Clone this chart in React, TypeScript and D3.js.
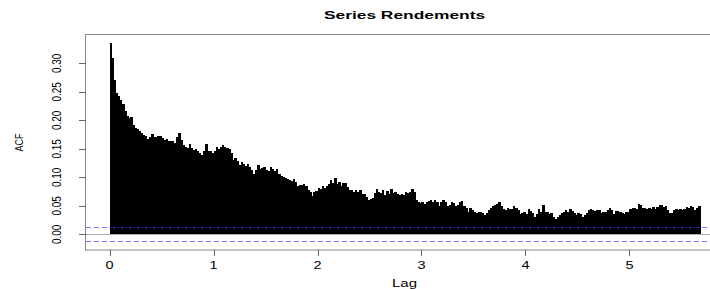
import * as d3 from "d3";
import { useEffect, useRef } from "react";

// ACF of Rendements, one value every 0.02 of lag
const lagStep = 0.02;
const acfValues = [
  0.335, 0.31, 0.27, 0.248, 0.243, 0.236, 0.228, 0.216, 0.208, 0.204,
  0.206, 0.192, 0.186, 0.184, 0.181, 0.177, 0.175, 0.172, 0.168, 0.171,
  0.176, 0.171, 0.17, 0.172, 0.172, 0.169, 0.165, 0.167, 0.164, 0.163,
  0.163, 0.16, 0.17, 0.178, 0.165, 0.157, 0.154, 0.152, 0.158, 0.152,
  0.148, 0.149, 0.146, 0.142, 0.139,
  0.146, 0.158, 0.147, 0.146, 0.143, 0.147, 0.153, 0.15, 0.153, 0.156,
  0.153, 0.152, 0.15, 0.143, 0.131, 0.134, 0.129, 0.122, 0.127, 0.123,
  0.12, 0.124, 0.118, 0.112, 0.106, 0.112, 0.121, 0.114, 0.117, 0.118,
  0.113, 0.111, 0.118, 0.114, 0.111, 0.114, 0.105, 0.103, 0.101, 0.099,
  0.097, 0.096, 0.093, 0.097, 0.091, 0.085, 0.087, 0.086,
  0.088, 0.084, 0.078, 0.074, 0.068, 0.074, 0.076, 0.082, 0.08, 0.085,
  0.082, 0.085, 0.088, 0.095, 0.09, 0.098, 0.089, 0.092, 0.084, 0.09,
  0.09, 0.083, 0.078, 0.078, 0.074, 0.077, 0.075, 0.077, 0.07, 0.071,
  0.066, 0.06, 0.062, 0.063, 0.072, 0.08, 0.074, 0.072, 0.078, 0.069,
  0.076, 0.071, 0.079, 0.072, 0.075, 0.071, 0.069, 0.071, 0.069,
  0.074, 0.072, 0.075, 0.079, 0.074, 0.06, 0.057, 0.055, 0.057, 0.054,
  0.057, 0.059, 0.06, 0.057, 0.06, 0.056, 0.049, 0.057, 0.061, 0.057,
  0.049, 0.051, 0.056, 0.055, 0.049, 0.051, 0.056, 0.058, 0.05, 0.046,
  0.04, 0.047, 0.042, 0.04, 0.038, 0.039, 0.04, 0.038, 0.034, 0.038,
  0.042, 0.046, 0.049, 0.051, 0.053, 0.057, 0.05, 0.045,
  0.043, 0.046, 0.044, 0.045, 0.049, 0.047, 0.042, 0.036, 0.037, 0.04,
  0.035, 0.044, 0.041, 0.038, 0.031, 0.036, 0.045, 0.04, 0.051, 0.039,
  0.039, 0.035, 0.037, 0.03, 0.027, 0.031, 0.034, 0.037, 0.039, 0.043,
  0.04, 0.045, 0.041, 0.038, 0.034, 0.037, 0.035, 0.031, 0.034, 0.038,
  0.043, 0.044, 0.043, 0.041, 0.043, 0.042, 0.038, 0.04,
  0.039, 0.042, 0.046, 0.042, 0.036, 0.041, 0.041, 0.04, 0.038, 0.035,
  0.04, 0.039, 0.045, 0.047, 0.046, 0.044, 0.053, 0.052, 0.046, 0.047,
  0.045, 0.046, 0.044, 0.048, 0.045, 0.048, 0.051, 0.052, 0.048, 0.049,
  0.043, 0.038, 0.038, 0.042, 0.045, 0.043, 0.045, 0.043, 0.044, 0.048,
  0.046, 0.049, 0.048, 0.043, 0.047, 0.049,
];
const confLimit = 0.0123;
const xTicks = [0, 1, 2, 3, 4, 5];
const yTicks = [0, 0.05, 0.1, 0.15, 0.2, 0.25, 0.3];
const title = "Series Rendements";

const W = 710, H = 289;
const font = "'Liberation Sans', Arial, Helvetica, sans-serif";

export default function App() {
  const ref = useRef<SVGSVGElement>(null);

  useEffect(() => {
    const svg = d3.select(ref.current);
    svg.selectAll("*").remove();

    const x = d3.scaleLinear().domain([-0.227, 5.9]).range([86, 723]);
    const y = d3.scaleLinear().domain([-0.0275, 0.3497]).range([250, 35]);
    const barW = x(lagStep) - x(0);
    const barsEnd = x(acfValues.length * lagStep);

    // bars
    svg.append("g")
      .selectAll("rect")
      .data(acfValues)
      .join("rect")
        .attr("x", (d, i) => x(i * lagStep))
        .attr("y", d => y(d))
        .attr("width", barW + 0.4)
        .attr("height", d => y(0) - y(d))
        .attr("fill", "#000")
        .attr("shape-rendering", "crispEdges");

    // zero line
    svg.append("line")
      .attr("x1", 86).attr("x2", W)
      .attr("y1", Math.round(y(0)) + 0.5).attr("y2", Math.round(y(0)) + 0.5)
      .attr("stroke", "#aaa");

    // confidence bounds (blue, dark where it crosses the bars)
    const ciSegs = [
      { v: confLimit, x1: 86, x2: W, c: "#7b7bff" },
      { v: confLimit, x1: x(0), x2: barsEnd, c: "#101090" },
      { v: -confLimit, x1: 86, x2: W, c: "#7b7bff" },
    ];
    svg.selectAll("line.ci")
      .data(ciSegs)
      .join("line")
        .attr("class", "ci")
        .attr("x1", d => d.x1).attr("x2", d => d.x2)
        .attr("y1", d => Math.round(y(d.v)) + 0.5)
        .attr("y2", d => Math.round(y(d.v)) + 0.5)
        .attr("stroke", d => d.c)
        .attr("stroke-dasharray", "5,3")
        .attr("stroke-dashoffset", d => -(d.x1 - 86));

    // frame
    svg.append("rect")
      .attr("x", 85.5).attr("y", 34.5)
      .attr("width", 637).attr("height", 215.5)
      .attr("fill", "none")
      .attr("stroke", "#888");

    // x axis
    const gx = svg.append("g");
    gx.selectAll("line")
      .data(xTicks)
      .join("line")
        .attr("x1", d => Math.round(x(d)) + 0.5).attr("x2", d => Math.round(x(d)) + 0.5)
        .attr("y1", 250).attr("y2", 256)
        .attr("stroke", "#666");
    gx.selectAll("text")
      .data(xTicks)
      .join("text")
        .attr("transform", d => `translate(${x(d)},269) scale(1.45,1)`)
        .attr("text-anchor", "middle")
        .attr("font-family", font)
        .attr("font-size", 10)
        .text(d => d);

    // y axis
    const gy = svg.append("g");
    gy.selectAll("line")
      .data(yTicks)
      .join("line")
        .attr("x1", 79).attr("x2", 86)
        .attr("y1", d => Math.round(y(d)) + 0.5).attr("y2", d => Math.round(y(d)) + 0.5)
        .attr("stroke", "#666");
    gy.selectAll("text")
      .data(yTicks)
      .join("text")
        .attr("transform", d => `translate(61,${y(d)}) rotate(-90) scale(1,1.3)`)
        .attr("text-anchor", "middle")
        .attr("font-family", font)
        .attr("font-size", 10)
        .text(d => d3.format(".2f")(d));

    // labels
    svg.append("text")
      .attr("transform", `translate(${(86 + 723) / 2},19) scale(1.58,1)`)
      .attr("text-anchor", "middle")
      .attr("font-family", font)
      .attr("font-weight", "bold")
      .attr("font-size", 11)
      .text(title);

    svg.append("text")
      .attr("transform", `translate(${(86 + 723) / 2},287) scale(1.5,1)`)
      .attr("text-anchor", "middle")
      .attr("font-family", font)
      .attr("font-size", 10)
      .text("Lag");

    svg.append("text")
      .attr("transform", `translate(23,${(35 + 250) / 2}) rotate(-90) scale(1,1.3)`)
      .attr("text-anchor", "middle")
      .attr("font-family", font)
      .attr("font-size", 9)
      .text("ACF");
  }, []);

  return (
    <svg
      ref={ref}
      width={W}
      height={H}
      style={{ position: "absolute", left: 0, top: 0, background: "#fff" }}
    />
  );
}
